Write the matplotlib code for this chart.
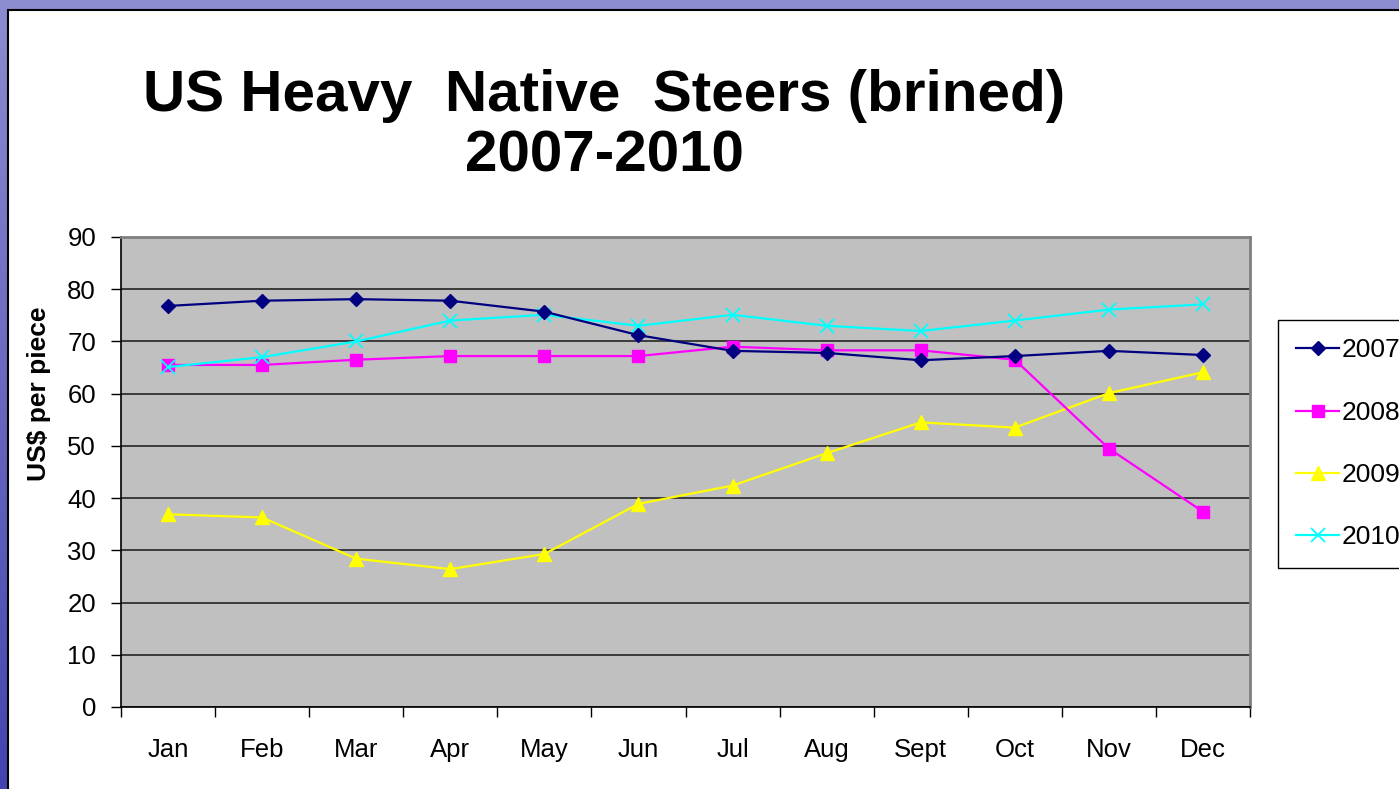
import matplotlib
matplotlib.use("Agg")
import matplotlib.pyplot as plt
from matplotlib.patches import Rectangle
from matplotlib.ticker import FixedLocator, NullFormatter
import numpy as np

plt.rcParams['font.family'] = ['Liberation Sans', 'DejaVu Sans']

months = ["Jan", "Feb", "Mar", "Apr", "May", "Jun", "Jul", "Aug", "Sept", "Oct", "Nov", "Dec"]
s2007 = [76.8, 77.8, 78.1, 77.8, 75.7, 71.2, 68.2, 67.8, 66.4, 67.2, 68.2, 67.4]
s2008 = [65.5, 65.5, 66.5, 67.2, 67.2, 67.2, 69.0, 68.3, 68.3, 66.5, 49.5, 37.4]
s2009 = [36.9, 36.3, 28.4, 26.4, 29.3, 38.9, 42.4, 48.6, 54.5, 53.5, 60.1, 64.1]
s2010 = [65.1, 67.0, 70.0, 74.0, 75.1, 73.0, 75.1, 73.0, 72.0, 74.0, 76.1, 77.1]
years = ["2007", "2008", "2009", "2010"]
yticks = [0, 10, 20, 30, 40, 50, 60, 70, 80, 90]

W, H = 1399, 789
fig = plt.figure(figsize=(W / 100, H / 100), dpi=100)
fig.patch.set_facecolor('#6B6BC2')

# gradient blue background strips
bg = fig.add_axes([0, 0, 1, 1], zorder=-10)
grad = np.linspace(0, 1, 256).reshape(-1, 1)
bg.imshow(grad, aspect='auto', cmap=matplotlib.colors.LinearSegmentedColormap.from_list(
    'b', ['#8C8CD0', '#4444B0']), extent=[0, 1, 0, 1], origin='upper')
bg.set_axis_off()

# white slide panel
fig.patches.append(Rectangle((8 / W, -0.01), 1, 1 - 10 / H + 0.01, transform=fig.transFigure,
                             facecolor='white', edgecolor='black', linewidth=1.5, zorder=-5))

ax = fig.add_axes([121 / W, 82 / H, 1129 / W, 470 / H])
ax.set_facecolor('#C0C0C0')
x = np.arange(len(months))

ax.plot(x, s2007, color='#000080', marker='D', markersize=7, linewidth=1.6, label=years[0], zorder=5)
ax.plot(x, s2008, color='#FF00FF', marker='s', markersize=9, linewidth=1.6, label=years[1], zorder=4)
ax.plot(x, s2009, color='#FFFF00', marker='^', markersize=10, linewidth=1.6, label=years[2], zorder=3)
ax.plot(x, s2010, color='#00FFFF', marker='x', markersize=10, markeredgewidth=1.3, linewidth=1.6,
        label=years[3], zorder=4)

ax.set_xlim(-0.5, 11.5)
ax.set_ylim(0, 90)
ax.set_yticks(yticks)
ax.set_yticklabels([str(v) for v in yticks])
ax.yaxis.grid(True, color='#303030', linewidth=1.3)
ax.set_axisbelow(True)

ax.xaxis.set_major_locator(FixedLocator(np.arange(-0.5, 12, 1)))
ax.xaxis.set_major_formatter(NullFormatter())
ax.xaxis.set_minor_locator(FixedLocator(x))
ax.set_xticklabels(months, minor=True)
ax.tick_params(axis='x', which='major', direction='out', length=7, width=1, color='black')
ax.tick_params(axis='x', which='minor', length=0, pad=22, labelsize=18.5)
ax.tick_params(axis='y', direction='out', length=7, width=1, pad=11, labelsize=18.5)

for side in ['left', 'bottom']:
    ax.spines[side].set_color('black')
    ax.spines[side].set_linewidth(1.2)
for side in ['top', 'right']:
    ax.spines[side].set_color('#808080')
    ax.spines[side].set_linewidth(2)

fig.text(39 / W, 1 - 394 / H, "US$ per piece", rotation=90, ha='center', va='center',
         fontsize=19, fontweight='bold')

fig.text(604 / W, 1 - 96 / H, "US Heavy  Native  Steers (brined)", ha='center', va='center',
         fontsize=42, fontweight='bold')
fig.text(604 / W, 1 - 157 / H, "2007-2010", ha='center', va='center',
         fontsize=42, fontweight='bold')

leg = fig.legend(loc='upper left', bbox_to_anchor=(1278 / W, 1 - 320 / H), fontsize=19,
                 frameon=True, fancybox=False, edgecolor='black', framealpha=1,
                 labelspacing=1.45, handlelength=1.6, handletextpad=0.1, borderpad=0.7,
                 borderaxespad=0)
leg.get_frame().set_linewidth(1)

fig.savefig("out.png", dpi=100)
